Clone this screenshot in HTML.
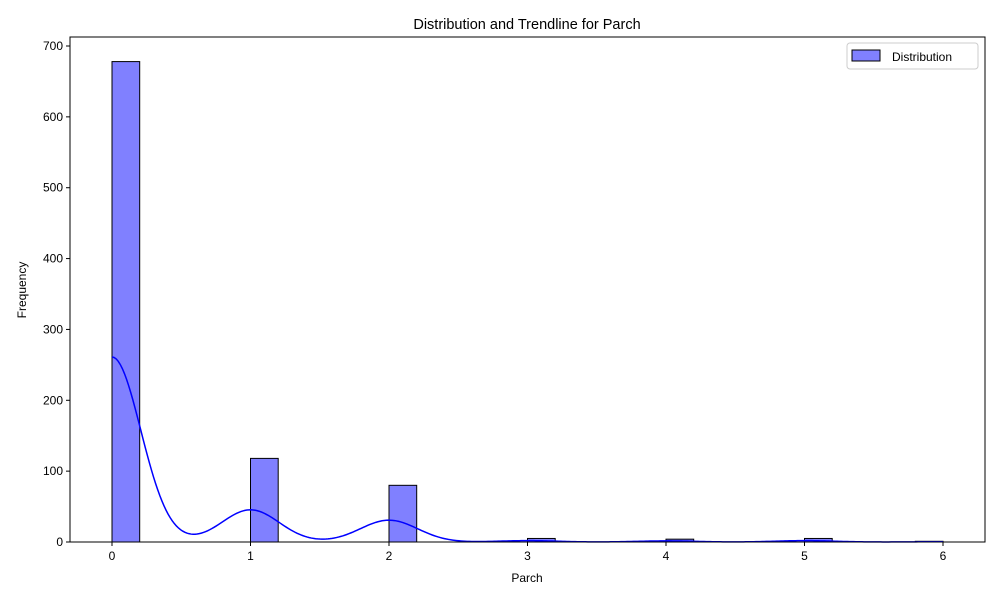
<!DOCTYPE html>
<html><head><meta charset="utf-8"><style>
body{margin:0;background:#fff;}
svg text{font-family:"Liberation Sans","DejaVu Sans",sans-serif;fill:#000;}
</style></head><body>
<svg id="chart" width="1000" height="600" viewBox="0 0 1000 600"></svg>
<script>
const categories=[0,1,2,3,4,5,6];
const counts=[678,118,80,5,4,5,1];
const yTicks=[0,100,200,300,400,500,600,700];
const xTicks=[0,1,2,3,4,5,6];
const binWidth=0.2;
const L=70,R=985,T=37,B=542;
const xs=v=>112+(v-0)*(943-112)/6;
const ys=v=>B-v*(B-46)/700;
const svg=document.getElementById('chart');
const NS='http://www.w3.org/2000/svg';
function mk(tag,attrs,parent){const e=document.createElementNS(NS,tag);for(const k in attrs)e.setAttribute(k,attrs[k]);(parent||svg).appendChild(e);return e;}
const lo=Math.min(...categories),hi=Math.max(...categories);
// bars
categories.forEach((c,i)=>{
  const s=Math.min(c,hi-binWidth);
  const r=mk('rect',{x:xs(s),y:ys(counts[i]),width:xs(s+binWidth)-xs(s),height:B-ys(counts[i]),fill:'#8080ff',stroke:'#000','stroke-width':1});
  
  
});
// KDE
let n=0,sum=0;counts.forEach((c,i)=>{n+=c;sum+=c*categories[i];});
const mean=sum/n;let v=0;counts.forEach((c,i)=>{v+=c*(categories[i]-mean)**2;});
const sd=Math.sqrt(v/(n-1));const bw=sd*Math.pow(n,-0.2);
let d='';
for(let k=0;k<=400;k++){const x=lo+(hi-lo)*k/400;let dens=0;
  counts.forEach((c,i)=>{const z=(x-categories[i])/bw;dens+=c*Math.exp(-0.5*z*z);});
  dens=dens/(n*bw*Math.sqrt(2*Math.PI))*n*binWidth;
  d+=(k?'L':'M')+xs(x).toFixed(2)+','+ys(dens).toFixed(2);}
const kde=mk('path',{d:d,fill:'none',stroke:'#0000ff','stroke-width':1.5});


const fr=mk('rect',{x:L,y:T,width:R-L,height:B-T,fill:'none',stroke:'#000','stroke-width':1});


xTicks.forEach(t=>{mk('line',{x1:xs(t),x2:xs(t),y1:B,y2:B+4,stroke:'#000'});
  const tx=mk('text',{x:xs(t),y:B+18,'text-anchor':'middle','font-size':12});tx.textContent=t;
  
  });
yTicks.forEach(t=>{mk('line',{x1:L-4,x2:L,y1:ys(t),y2:ys(t),stroke:'#000'});
  const tx=mk('text',{x:L-7,y:ys(t)+4,'text-anchor':'end','font-size':12});tx.textContent=t;
  
  });
</script>
<svg style="position:absolute;left:0;top:0" width="1000" height="600">
<text x="527" y="29" text-anchor="middle" font-size="14.5">Distribution and Trendline for Parch</text>
<text x="527" y="582" text-anchor="middle" font-size="12">Parch</text>
<text transform="translate(26,290) rotate(-90)" text-anchor="middle" font-size="12">Frequency</text>
<g>
<rect x="847" y="43" width="131" height="26" rx="3" fill="#fff" stroke="#ccc"/>
<rect x="852" y="50" width="28" height="11" fill="#8080ff" stroke="#000"/>
<text x="892" y="61" font-size="12">Distribution</text>
</g>
</svg>
</body></html>
